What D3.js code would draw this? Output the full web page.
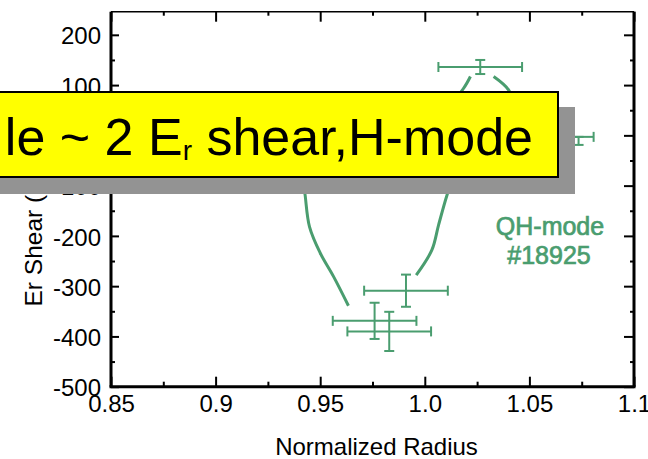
<!DOCTYPE html>
<html>
<head>
<meta charset="utf-8">
<script src="https://cdn.jsdelivr.net/npm/d3@7"></script>
<style>
  html, body { margin: 0; padding: 0; background: #fff; }
  svg { display: block; font-family: "Liberation Sans", Arial, Helvetica, sans-serif; }
</style>
</head>
<body>
<svg id="chart" width="648" height="459"></svg>
<script>
// ---- data ----
const xTickValues = [0.85, 0.9, 0.95, 1.0, 1.05, 1.1];
const xTickLabels = ["0.85", "0.9", "0.95", "1.0", "1.05", "1.1"];
const xMinorTicks = [0.875, 0.925, 0.975, 1.025, 1.075];
const yTickValues = [-500, -400, -300, -200, -100, 0, 100, 200];
const yTickLabels = ["-500", "-400", "-300", "-200", "-100", "0", "100", "200"];
const yMinorTicks = [-450, -350, -250, -150, -50, 50, 150];

// measured points (normalized radius, Er shear) with error bars
const ptRadius   = [1.0265, 1.0735, 0.991, 0.976, 0.983];
const ptShear    = [136, -3, -309, -369, -390];
const ptRadErr   = [0.020, 0.0072, 0.020, 0.020, 0.020];
const ptShearErrPlus  = [14, 0, 32, 36, 39];
const ptShearErrMinus = [14, 16, 32, 36, 39];

// fitted curve branches (radius, shear)
const leftBranchR = [0.9635, 0.9564, 0.9500, 0.9449, 0.9428, 0.9414, 0.9548, 0.9883, 1.0132, 1.0186, 1.0218];
const leftBranchS = [-339, -281, -234, -182, -119, -69, 21, 60, 70, 94, 117];
const rightBranchR = [1.0329, 1.0401, 1.0423, 1.0337, 1.0194, 1.0132, 1.0106, 1.0066, 1.0034, 0.9959];
const rightBranchS = [117, 90, 60, -9, -59, -89, -119, -178, -228, -278];

const annotation = ["QH-mode", "#18925"];
const xTitle = "Normalized Radius";
const yTitle = "Er Shear (kHz)";

// ---- drawing ----
const green = "#4a9d6f";
const svg = d3.select("#chart");
const x = d3.scaleLinear().domain([0.85, 1.1]).range([111, 634]);
const y = d3.scaleLinear().domain([-500, 246]).range([386.7, 11.7]);
const fontSize = 24;

// axes ticks
const axB = svg.append("g").attr("transform", `translate(0,${y(-500)})`)
  .call(d3.axisBottom(x).tickValues(xTickValues).tickFormat((d, i) => xTickLabels[i]).tickSize(-10).tickPadding(8));
const axBm = svg.append("g").attr("transform", `translate(0,${y(-500)})`)
  .call(d3.axisBottom(x).tickValues(xMinorTicks).tickFormat("").tickSize(-5));
const axT = svg.append("g").attr("transform", `translate(0,${y(246)})`)
  .call(d3.axisTop(x).tickValues(xTickValues).tickFormat("").tickSize(-10));
const axTm = svg.append("g").attr("transform", `translate(0,${y(246)})`)
  .call(d3.axisTop(x).tickValues(xMinorTicks).tickFormat("").tickSize(-4));
const axL = svg.append("g").attr("transform", `translate(${x(0.85)},0)`)
  .call(d3.axisLeft(y).tickValues(yTickValues).tickFormat((d, i) => yTickLabels[i]).tickSize(-8).tickPadding(10));
const axLm = svg.append("g").attr("transform", `translate(${x(0.85)},0)`)
  .call(d3.axisLeft(y).tickValues(yMinorTicks).tickFormat("").tickSize(-4));
const axR = svg.append("g").attr("transform", `translate(${x(1.1)},0)`)
  .call(d3.axisRight(y).tickValues(yTickValues).tickFormat("").tickSize(-10));
const axRm = svg.append("g").attr("transform", `translate(${x(1.1)},0)`)
  .call(d3.axisRight(y).tickValues(yMinorTicks).tickFormat("").tickSize(-4));

svg.selectAll(".domain").remove();
svg.selectAll(".tick line").attr("stroke", "#000").attr("stroke-width", 2);
svg.selectAll(".tick text").attr("fill", "#000").style("font-size", fontSize + "px")
  .style("font-family", '"Liberation Sans", Arial, Helvetica, sans-serif');
axL.selectAll(".tick text").attr("dy", "0.38em");

// frame
const x0 = x(0.85), x1 = x(1.1), y0 = y(-500), y1 = y(246);
svg.append("line").attr("x1", x0).attr("x2", x1).attr("y1", y1).attr("y2", y1).attr("stroke", "#000").attr("stroke-width", 1.6);
svg.append("line").attr("x1", x0 - 1.5).attr("x2", x1 + 1.5).attr("y1", y0).attr("y2", y0).attr("stroke", "#000").attr("stroke-width", 3);
svg.append("line").attr("x1", x0).attr("x2", x0).attr("y1", y1).attr("y2", y0).attr("stroke", "#000").attr("stroke-width", 3);
svg.append("line").attr("x1", x1).attr("x2", x1).attr("y1", y1).attr("y2", y0).attr("stroke", "#000").attr("stroke-width", 3);

// axis titles
svg.append("text").attr("x", (x0 + x1) / 2 + 4).attr("y", 455).attr("text-anchor", "middle")
  .style("font-size", fontSize + "px").attr("fill", "#000").text(xTitle);
svg.append("text").attr("transform", `translate(41.5,306.5) rotate(-90)`).attr("text-anchor", "start")
  .style("font-size", "24.5px").attr("fill", "#000").text(yTitle);

// curve branches
const line = d3.line().x(d => x(d[0])).y(d => y(d[1])).curve(d3.curveCatmullRom.alpha(0.5));
svg.append("path").datum(leftBranchR.map((r, i) => [r, leftBranchS[i]]))
  .attr("d", line).attr("fill", "none").attr("stroke", green).attr("stroke-width", 3);
svg.append("path").datum(rightBranchR.map((r, i) => [r, rightBranchS[i]]))
  .attr("d", line).attr("fill", "none").attr("stroke", green).attr("stroke-width", 3);

// error bars
const cap = 5;
const eb = svg.append("g").attr("stroke", green).attr("stroke-width", 2).attr("fill", "none");
ptRadius.forEach((r, i) => {
  const cx = x(r), cy = y(ptShear[i]);
  const xl = x(r - ptRadErr[i]), xr = x(r + ptRadErr[i]);
  const yt = y(ptShear[i] + ptShearErrPlus[i]), yb = y(ptShear[i] - ptShearErrMinus[i]);
  eb.append("line").attr("x1", xl).attr("x2", xr).attr("y1", cy).attr("y2", cy);
  eb.append("line").attr("x1", xl).attr("x2", xl).attr("y1", cy - cap).attr("y2", cy + cap);
  eb.append("line").attr("x1", xr).attr("x2", xr).attr("y1", cy - cap).attr("y2", cy + cap);
  eb.append("line").attr("x1", cx).attr("x2", cx).attr("y1", yt).attr("y2", yb);
  eb.append("line").attr("x1", cx - cap).attr("x2", cx + cap).attr("y1", yt).attr("y2", yt);
  eb.append("line").attr("x1", cx - cap).attr("x2", cx + cap).attr("y1", yb).attr("y2", yb);
});

// annotation
const ann = svg.append("text").attr("text-anchor", "middle").attr("fill", green)
  .attr("stroke", green).attr("stroke-width", 0.7)
  .style("font-size", "25px");
ann.append("tspan").attr("x", 550).attr("y", 235).text(annotation[0]);
ann.append("tspan").attr("x", 549).attr("y", 264).text(annotation[1]);

// callout box with shadow
svg.append("rect").attr("x", -20).attr("y", 107).attr("width", 595).attr("height", 87).attr("fill", "#939393");
svg.append("rect").attr("x", -20).attr("y", 92).attr("width", 578).attr("height", 85)
  .attr("fill", "#ffff00").attr("stroke", "#000").attr("stroke-width", 2);
const bt = svg.append("text").attr("x", 533).attr("y", 155).attr("text-anchor", "end")
  .attr("fill", "#000").style("font-size", "52px");
bt.append("tspan").text("le ~ 2 E");
bt.append("tspan").attr("dy", 5).style("font-size", "28px").text("r");
bt.append("tspan").attr("dy", -5).text(" shear,H-mode");
</script>
</body>
</html>
